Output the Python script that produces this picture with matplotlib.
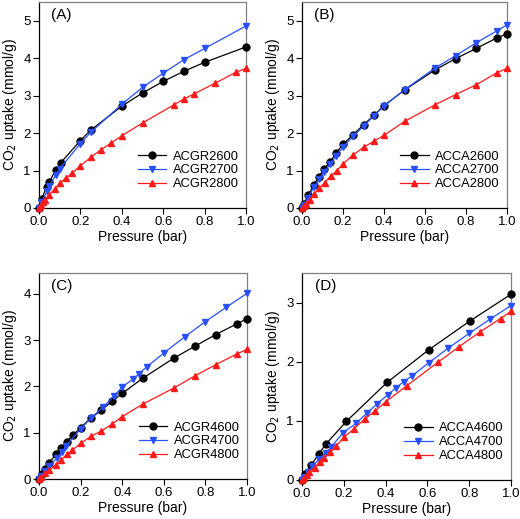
import numpy as np
import matplotlib
matplotlib.use("Agg")
import matplotlib.pyplot as plt

plt.rcParams['font.family'] = ['Liberation Sans', 'DejaVu Sans']

# Panel A
a_x1 = [0, 0.013, 0.037, 0.05, 0.08, 0.105, 0.2, 0.25, 0.4, 0.5, 0.6, 0.7, 0.8, 1.0]
a_y1 = [0, 0.24, 0.57, 0.69, 1.02, 1.21, 1.80, 2.08, 2.72, 3.07, 3.38, 3.65, 3.89, 4.30]
a_x2 = [0, 0.01, 0.04, 0.05, 0.08, 0.1, 0.2, 0.25, 0.4, 0.5, 0.6, 0.7, 0.8, 1.0]
a_y2 = [0, 0.15, 0.45, 0.58, 0.88, 1.05, 1.72, 2.02, 2.77, 3.22, 3.60, 3.96, 4.26, 4.86]
a_x3 = [0, 0.01, 0.02, 0.03, 0.05, 0.075, 0.1, 0.13, 0.16, 0.2, 0.25, 0.3, 0.35, 0.4,
        0.5, 0.65, 0.7, 0.75, 0.85, 0.95, 1.0]
a_y3 = [0, 0.08, 0.15, 0.22, 0.36, 0.5, 0.66, 0.8, 0.93, 1.13, 1.35, 1.56, 1.74, 1.93,
        2.27, 2.75, 2.91, 3.05, 3.33, 3.62, 3.73]

# Panel B
b_x1 = [0, 0.01, 0.03, 0.058, 0.083, 0.108, 0.138, 0.167, 0.2, 0.25, 0.3, 0.35, 0.4,
        0.5, 0.65, 0.75, 0.85, 0.95, 1.0]
b_y1 = [0, 0.12, 0.34, 0.62, 0.84, 1.04, 1.24, 1.47, 1.70, 1.96, 2.22, 2.47, 2.73,
        3.15, 3.69, 3.99, 4.26, 4.54, 4.65]
b_x2 = b_x1
b_y2 = [0, 0.08, 0.28, 0.55, 0.77, 0.97, 1.17, 1.40, 1.63, 1.92, 2.18, 2.46, 2.72,
        3.16, 3.74, 4.07, 4.41, 4.73, 4.89]
b_x3 = [0, 0.01, 0.02, 0.037, 0.06, 0.085, 0.11, 0.142, 0.17, 0.2, 0.25, 0.3, 0.35, 0.4,
        0.5, 0.65, 0.75, 0.85, 0.95, 1.0]
b_y3 = [0, 0.05, 0.1, 0.22, 0.38, 0.53, 0.68, 0.86, 1.0, 1.18, 1.42, 1.62, 1.78, 1.94,
        2.31, 2.76, 3.03, 3.29, 3.61, 3.73]

# Panel C
c_x1 = [0, 0.013, 0.03, 0.05, 0.08, 0.104, 0.133, 0.162, 0.2, 0.248, 0.3, 0.352, 0.4,
        0.5, 0.648, 0.75, 0.85, 0.95, 1.0]
c_y1 = [0, 0.11, 0.22, 0.34, 0.54, 0.67, 0.81, 0.94, 1.11, 1.31, 1.49, 1.68, 1.85,
        2.18, 2.61, 2.87, 3.12, 3.35, 3.46]
c_x2 = [0, 0.01, 0.03, 0.05, 0.085, 0.11, 0.13, 0.2, 0.25, 0.31, 0.36, 0.4, 0.45, 0.48,
        0.52, 0.6, 0.7, 0.8, 0.9, 1.0]
c_y2 = [0, 0.06, 0.17, 0.28, 0.45, 0.58, 0.72, 1.08, 1.32, 1.56, 1.79, 1.99, 2.15, 2.27,
        2.43, 2.72, 3.07, 3.40, 3.71, 4.01]
c_x3 = [0, 0.01, 0.03, 0.05, 0.08, 0.104, 0.136, 0.16, 0.2, 0.25, 0.3, 0.35, 0.4,
        0.5, 0.65, 0.75, 0.85, 0.95, 1.0]
c_y3 = [0, 0.05, 0.12, 0.2, 0.3, 0.4, 0.54, 0.62, 0.77, 0.92, 1.04, 1.18, 1.35,
        1.62, 1.97, 2.23, 2.47, 2.70, 2.80]

# Panel D
d_x1 = [0, 0.013, 0.045, 0.08, 0.115, 0.212, 0.407, 0.606, 0.804, 1.0]
d_y1 = [0, 0.10, 0.26, 0.44, 0.61, 0.99, 1.65, 2.20, 2.69, 3.14]
d_x2 = [0, 0.01, 0.03, 0.05, 0.08, 0.116, 0.14, 0.196, 0.26, 0.31, 0.36, 0.41, 0.45,
        0.486, 0.526, 0.606, 0.7, 0.8, 0.9, 1.0]
d_y2 = [0, 0.05, 0.14, 0.23, 0.35, 0.46, 0.56, 0.80, 0.96, 1.13, 1.29, 1.44, 1.56,
        1.66, 1.76, 1.98, 2.23, 2.48, 2.72, 2.95]
d_x3 = [0, 0.01, 0.025, 0.035, 0.06, 0.085, 0.107, 0.135, 0.165, 0.2, 0.25, 0.3, 0.35,
        0.4, 0.5, 0.65, 0.75, 0.85, 0.95, 1.0]
d_y3 = [0, 0.03, 0.08, 0.13, 0.21, 0.31, 0.38, 0.47, 0.58, 0.72, 0.87, 1.03, 1.17,
        1.32, 1.59, 1.99, 2.25, 2.50, 2.73, 2.85]

panels = [
    ("(A)", ["ACGR2600", "ACGR2700", "ACGR2800"], [(a_x1, a_y1), (a_x2, a_y2), (a_x3, a_y3)], 5.5, [0, 1, 2, 3, 4, 5]),
    ("(B)", ["ACCA2600", "ACCA2700", "ACCA2800"], [(b_x1, b_y1), (b_x2, b_y2), (b_x3, b_y3)], 5.5, [0, 1, 2, 3, 4, 5]),
    ("(C)", ["ACGR4600", "ACGR4700", "ACGR4800"], [(c_x1, c_y1), (c_x2, c_y2), (c_x3, c_y3)], 4.45, [0, 1, 2, 3, 4]),
    ("(D)", ["ACCA4600", "ACCA4700", "ACCA4800"], [(d_x1, d_y1), (d_x2, d_y2), (d_x3, d_y3)], 3.5, [0, 1, 2, 3]),
]

W, H = 520, 519
boxes = [(39, 2, 246, 208), (302, 2, 507, 208), (39, 273, 247, 479), (302, 273, 511, 480)]

colors = ['black', '#2850ff', '#ff1a1a']
markers = ['o', 'v', '^']

fig = plt.figure(figsize=(W / 100, H / 100), dpi=100)

for (tag, names, series, ytop, yt), (l, t, r, b) in zip(panels, boxes):
    ax = fig.add_axes([l / W, 1 - b / H, (r - l) / W, (b - t) / H])
    for (x, y), name, c, m in zip(series, names, colors, markers):
        ax.plot(x, y, color=c, marker=m, markersize=5, linewidth=0.9,
                label=name, clip_on=False, zorder=3)
    ax.set_xlim(0, 1.0)
    ax.set_ylim(0, ytop)
    ax.set_xticks([0, 0.2, 0.4, 0.6, 0.8, 1.0])
    ax.set_xticklabels(['0.0', '0.2', '0.4', '0.6', '0.8', '1.0'])
    ax.set_yticks(yt)
    ax.tick_params(direction='out', length=4, width=0.8, labelsize=9.5, pad=2)
    for s in ['top', 'right']:
        ax.spines[s].set_color('#808080')
    for s in ax.spines.values():
        s.set_linewidth(0.9)
    ax.set_xlabel('Pressure (bar)', fontsize=10, labelpad=1)
    ax.set_ylabel('CO$_2$ uptake (mmol/g)', fontsize=10, labelpad=3)
    ax.text(0.06, 0.97, tag, transform=ax.transAxes, fontsize=11, va='top', ha='left')
    ax.legend(loc='lower right', bbox_to_anchor=(0.99, 0.06), frameon=False,
              fontsize=9.3, handlelength=2.2, labelspacing=0.15, handletextpad=0.5,
              borderaxespad=0)

fig.savefig('out.png', dpi=100)
